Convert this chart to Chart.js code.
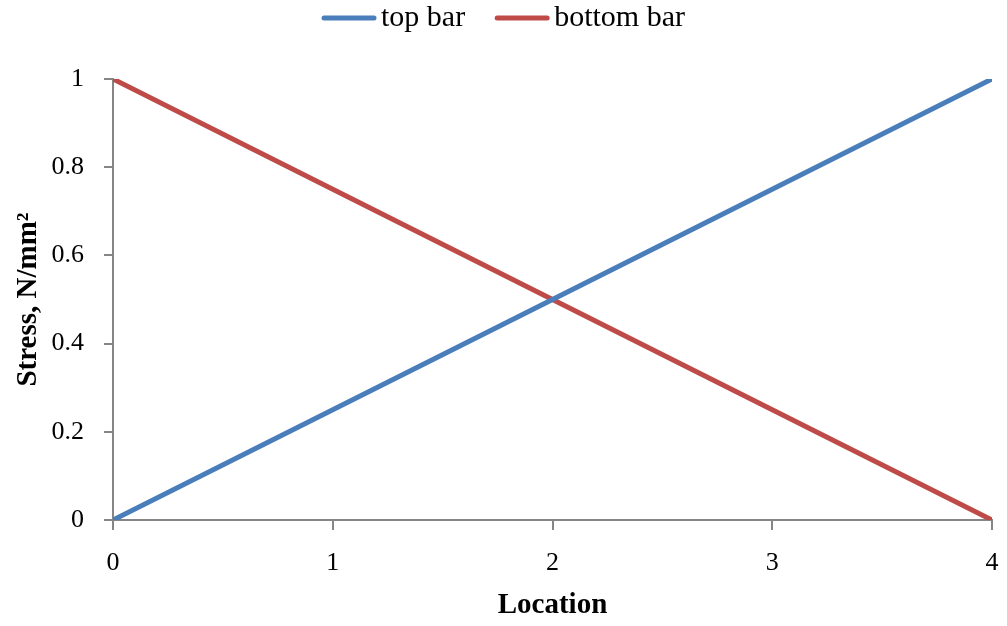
<!DOCTYPE html>
<html><head><meta charset="utf-8">
<script src="https://cdn.jsdelivr.net/npm/chart.js@4"></script>
<style>html,body{margin:0;padding:0;background:#fff}canvas{display:block}</style>
</head><body>
<canvas id="c" width="1007" height="626"></canvas>
<script>
// Stress along the two bars
const locations = [0, 1, 2, 3, 4];
const topBar = [0, 0.25, 0.5, 0.75, 1];
const bottomBar = [1, 0.75, 0.5, 0.25, 0];
const seriesNames = ['top bar', 'bottom bar'];
const seriesColors = ['#4a7ebb', '#be4b48'];
const yTickLabels = ['0', '0.2', '0.4', '0.6', '0.8', '1'];
const xTitle = 'Location';
const yTitle = 'Stress, N/mm²';

const FONT = "'Liberation Serif', serif";
const AXIS = '#868686';

// Legend drawn in one centred row across the top
const topLegend = {
  id: 'topLegend',
  afterDraw(chart) {
    const ctx = chart.ctx;
    const lineLen = 54, gap = 5, itemGap = 30, cy = 18;
    ctx.save();
    ctx.font = '30px ' + FONT;
    ctx.textBaseline = 'middle';
    const items = chart.data.datasets.map(d => ({label: d.label, color: d.borderColor, w: ctx.measureText(d.label).width}));
    let total = items.reduce((s, it) => s + lineLen + gap + it.w, 0) + itemGap * (items.length - 1);
    let x = (chart.width - total) / 2;
    items.forEach(it => {
      ctx.strokeStyle = it.color;
      ctx.lineWidth = 5;
      ctx.lineCap = 'round';
      ctx.beginPath();
      ctx.moveTo(x + 2, cy);
      ctx.lineTo(x + lineLen - 2, cy);
      ctx.stroke();
      ctx.fillStyle = '#000';
      ctx.fillText(it.label, x + lineLen + gap, cy);
      x += lineLen + gap + it.w + itemGap;
    });
    ctx.restore();
  }
};

const toPoints = ys => locations.map((x, i) => ({x, y: ys[i]}));

new Chart(document.getElementById('c'), {
  type: 'line',
  data: {
    datasets: [
      {label: seriesNames[0], data: toPoints(topBar), borderColor: seriesColors[0], backgroundColor: seriesColors[0]},
      {label: seriesNames[1], data: toPoints(bottomBar), borderColor: seriesColors[1], backgroundColor: seriesColors[1]}
    ]
  },
  options: {
    responsive: false,
    animation: false,
    devicePixelRatio: 1,
    layout: {padding: {top: 79, right: 15, bottom: 0, left: 0}},
    elements: {
      line: {borderWidth: 5, tension: 0, borderCapStyle: 'butt'},
      point: {radius: 0, hoverRadius: 0}
    },
    plugins: {legend: {display: false}, tooltip: {enabled: false}},
    scales: {
      x: {
        type: 'linear', min: 0, max: 4,
        afterFit: s => { s.height = 106; s.paddingLeft = 0; s.paddingRight = 0; },
        border: {color: AXIS, width: 2},
        grid: {drawOnChartArea: false, drawTicks: true, tickLength: 10, color: AXIS, lineWidth: 2},
        ticks: {stepSize: 1, color: '#000', padding: 18, font: {family: FONT, size: 26}},
        title: {display: true, text: xTitle, color: '#000', padding: {top: 4, bottom: 3}, font: {family: FONT, size: 29, weight: 'bold'}}
      },
      y: {
        min: 0, max: 1,
        afterFit: s => { s.width = 113; s.paddingTop = 0; s.paddingBottom = 0; },
        border: {color: AXIS, width: 2},
        grid: {drawOnChartArea: false, drawTicks: true, tickLength: 9, color: AXIS, lineWidth: 2},
        ticks: {stepSize: 0.2, color: '#000', padding: 20, font: {family: FONT, size: 26},
                callback: (v, i) => yTickLabels[i]},
        title: {display: true, text: yTitle, color: '#000', padding: {top: 11, bottom: 0}, font: {family: FONT, size: 29, weight: 'bold'}}
      }
    }
  },
  plugins: [topLegend]
});
</script>
</body></html>
